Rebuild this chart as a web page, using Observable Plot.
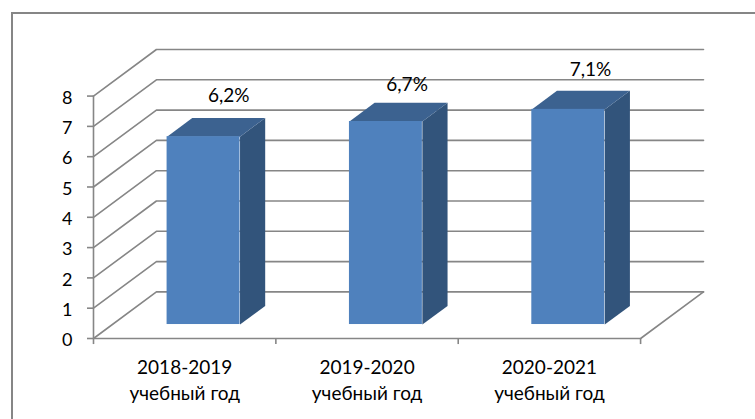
<!DOCTYPE html>
<html>
<head>
<meta charset="utf-8">
<script src="https://cdn.jsdelivr.net/npm/d3@7"></script>
<script src="https://cdn.jsdelivr.net/npm/@observablehq/plot@0.6"></script>
<style>
html,body{margin:0;padding:0;background:#fff;width:755px;height:419px;overflow:hidden}
#frame{position:absolute;left:11px;top:12px;width:800px;height:500px;border:2px solid #868686;box-sizing:border-box}
#chart{position:absolute;left:0;top:0}
</style>
</head>
<body>
<div id="frame"></div>
<div id="chart"></div>
<script>
const categories = ["2018-2019\nучебный год", "2019-2020\nучебный год", "2020-2021\nучебный год"];
const values = [6.2, 6.7, 7.1];
const valueLabels = ["6,2%", "6,7%", "7,1%"];
const yTicks = [0, 1, 2, 3, 4, 5, 6, 7, 8];
const xTicks = [0, 1, 2, 3];

// Oblique projection of the 3-D chart: depth z (0 = front, 1 = back wall)
const depthX = 0.345, depthY = 1.537;
const px = (x, z) => x + z * depthX;
const py = (v, z) => v + z * depthY;
const barFront = 0.30, barBack = 0.70, barHalf = 0.2;

const grid = yTicks.flatMap(v => [
  {v, x: px(0, 0), y: py(v, 0)},
  {v, x: px(0, 1), y: py(v, 1)},
  {v, x: px(3, 1), y: py(v, 1)}
]);
const floorEdge = [
  {x: 0, y: 0}, {x: 3, y: 0}, {x: px(3, 1), y: py(0, 1)}
];
const leftEdge = [{x: 0, y: 0}, {x: 0, y: 8}];

const bars = values.map((v, i) => ({
  i, v,
  a: i + 0.5 - barHalf,
  b: i + 0.5 + barHalf
}));
const side = bars.flatMap(d => [
  {i: d.i, x: px(d.b, barFront), y: py(0, barFront)},
  {i: d.i, x: px(d.b, barBack), y: py(0, barBack)},
  {i: d.i, x: px(d.b, barBack), y: py(d.v, barBack)},
  {i: d.i, x: px(d.b, barFront), y: py(d.v, barFront)}
]);
const top3d = bars.flatMap(d => [
  {i: d.i, x: px(d.a, barFront), y: py(d.v, barFront)},
  {i: d.i, x: px(d.b, barFront), y: py(d.v, barFront)},
  {i: d.i, x: px(d.b, barBack), y: py(d.v, barBack)},
  {i: d.i, x: px(d.a, barBack), y: py(d.v, barBack)}
]);

const gray = "#868686";
const font = "Lato, 'Open Sans', sans-serif";
const labelNudge = [[0, -22], [-4, -18], [-3, -21]];

const chart = Plot.plot({
  width: 755, height: 419,
  marginLeft: 93, marginRight: 52, marginTop: 49, marginBottom: 81,
  x: {domain: [0, px(3, 1)], axis: null},
  y: {domain: [0, py(8, 1)], axis: null},
  style: {background: "transparent", fontFamily: font, color: "black"},
  marks: [
    Plot.line(grid, {x: "x", y: "y", z: "v", stroke: gray, strokeWidth: 1.6}),
    Plot.line(floorEdge, {x: "x", y: "y", stroke: gray, strokeWidth: 1.6}),
    Plot.line(leftEdge, {x: "x", y: "y", stroke: gray, strokeWidth: 1.6}),
    Plot.ruleX(xTicks, {x: d => d, y1: 0, y2: -0.2, stroke: gray, strokeWidth: 1.6}),
    Plot.axisY({ticks: yTicks, tickSize: 6, text: null, stroke: gray, strokeWidth: 1.6, label: null, anchor: "left"}),
    Plot.axisY({ticks: yTicks, tickSize: 0, tickPadding: 21, dy: 2, fontSize: 18, fill: "black", label: null, tickFormat: d => d, anchor: "left"}),
    Plot.line(side, {x: "x", y: "y", z: "i", fill: "#32547B", stroke: null, curve: "linear-closed"}),
    Plot.line(top3d, {x: "x", y: "y", z: "i", fill: "#3C6290", stroke: null, curve: "linear-closed"}),
    Plot.rect(bars, {
      x1: d => px(d.a, barFront), x2: d => px(d.b, barFront),
      y1: py(0, barFront), y2: d => py(d.v, barFront),
      fill: "#4F81BD"
    }),
    ...bars.map((d, k) => Plot.text([d], {
      x: e => px(e.i + 0.5, barBack), y: e => py(e.v, barBack),
      text: () => valueLabels[k], dx: labelNudge[k][0], dy: labelNudge[k][1],
      fontSize: 19, fill: "black"
    })),
    Plot.text(categories, {
      x: (d, i) => i + 0.5, y: 0, text: d => d,
      lineHeight: 1.38, lineAnchor: "top", dy: 17,
      fontSize: 19, fill: "black"
    })
  ]
});
document.getElementById("chart").appendChild(chart);
</script>
</body>
</html>
